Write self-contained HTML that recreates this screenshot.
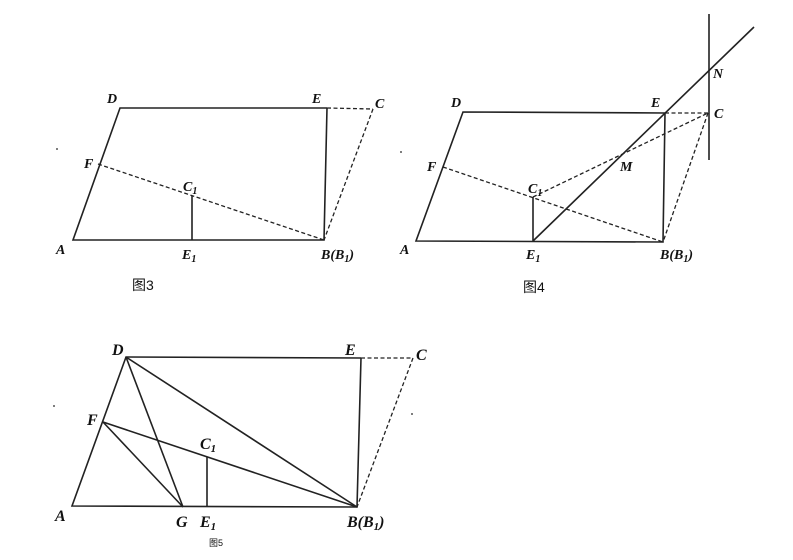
<!DOCTYPE html>
<html><head><meta charset="utf-8"><style>
html,body{margin:0;padding:0;background:#fff;}
svg text{font-family:"Liberation Serif",serif;font-style:italic;font-weight:bold;fill:#111;}
svg text.cap{font-family:"Liberation Sans","Noto Sans CJK SC",sans-serif;font-style:normal;font-weight:normal;}
</style></head><body>
<svg width="793" height="555" viewBox="0 0 793 555" xmlns="http://www.w3.org/2000/svg">
<g stroke="#222" stroke-width="1.6" fill="none">
<polyline points="327,108 120,108 73,240 324,240 327,108"/>
<line x1="192" y1="196" x2="192" y2="240"/>
<g stroke-dasharray="4,2.5" stroke-width="1.3">
<line x1="327" y1="108" x2="373" y2="109"/>
<line x1="373" y1="109" x2="324" y2="240"/>
<line x1="98" y1="164" x2="324" y2="240"/>
</g>
<polyline points="665,113 463,112 416,241 663,242 665,113"/>
<line x1="533" y1="197" x2="533" y2="241"/>
<line x1="533" y1="241" x2="754" y2="27"/>
<line x1="709" y1="14" x2="709" y2="160"/>
<g stroke-dasharray="4,2.5" stroke-width="1.3">
<line x1="665" y1="113" x2="708" y2="113"/>
<line x1="708" y1="113" x2="663" y2="242"/>
<line x1="443" y1="167" x2="663" y2="242"/>
<line x1="533" y1="197" x2="708" y2="113"/>
</g>
<polyline points="361,358 126,357 72,506 357,507 361,358"/>
<line x1="207" y1="457" x2="207" y2="507"/>
<line x1="126" y1="357" x2="183" y2="507"/>
<line x1="103" y1="422" x2="183" y2="507"/>
<line x1="126" y1="357" x2="357" y2="507"/>
<line x1="103" y1="422" x2="357" y2="507"/>
<g stroke-dasharray="4,2.5" stroke-width="1.3">
<line x1="361" y1="358" x2="413" y2="358"/>
<line x1="413" y1="358" x2="357" y2="507"/>
</g>
</g>
<g fill="#555"><circle cx="57" cy="149" r="1"/><circle cx="401" cy="152" r="1"/><circle cx="54" cy="406" r="1"/><circle cx="412" cy="414" r="1"/></g>
<g font-size="14">
<text x="107" y="103">D</text><text x="312" y="103">E</text><text x="375" y="108">C</text>
<text x="84" y="168">F</text><text x="183" y="191">C<tspan font-size="10" dy="3">1</tspan></text>
<text x="56" y="254">A</text><text x="182" y="259">E<tspan font-size="10" dy="3">1</tspan></text>
<text x="321" y="259">B(B<tspan font-size="10" dy="3">1</tspan><tspan dy="-3">)</tspan></text>

<text x="451" y="107">D</text><text x="651" y="107">E</text><text x="714" y="118">C</text>
<text x="713" y="78">N</text><text x="620" y="171">M</text>
<text x="427" y="171">F</text><text x="528" y="193">C<tspan font-size="10" dy="3">1</tspan></text>
<text x="400" y="254">A</text><text x="526" y="259">E<tspan font-size="10" dy="3">1</tspan></text>
<text x="660" y="259">B(B<tspan font-size="10" dy="3">1</tspan><tspan dy="-3">)</tspan></text>
</g>
<g font-size="16">
<text x="112" y="355">D</text><text x="345" y="355">E</text><text x="416" y="360">C</text>
<text x="87" y="425">F</text><text x="200" y="449">C<tspan font-size="11" dy="3">1</tspan></text>
<text x="55" y="521">A</text><text x="176" y="527">G</text><text x="200" y="527">E<tspan font-size="11" dy="3">1</tspan></text>
<text x="347" y="527">B(B<tspan font-size="11" dy="3">1</tspan><tspan dy="-3">)</tspan></text>
</g>
<text class="cap" x="132" y="290" font-size="14">图3</text>
<text class="cap" x="523" y="292" font-size="14">图4</text>
<text class="cap" x="209" y="546" font-size="9">图5</text>
</svg>
</body></html>
